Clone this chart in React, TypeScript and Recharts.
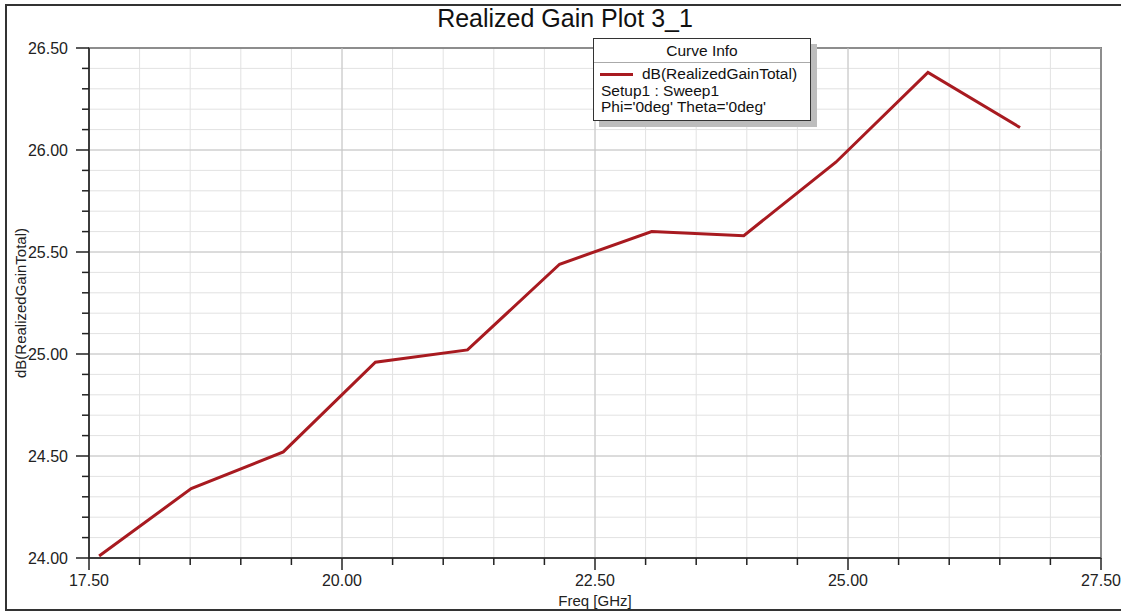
import {
  LineChart, Line, XAxis, YAxis, CartesianGrid,
  ReferenceLine, ReferenceArea, Legend,
} from 'recharts';

// frequency sweep points (GHz) and realized gain (dB)
const freqs = [17.6, 18.51, 19.42, 20.33, 21.24, 22.15, 23.06, 23.97, 24.88, 25.79, 26.7];
const gains = [24.01, 24.34, 24.52, 24.96, 25.02, 25.44, 25.6, 25.58, 25.94, 26.38, 26.11];

const xTicks = [17.5, 18, 18.5, 19, 19.5, 20, 20.5, 21, 21.5, 22, 22.5, 23, 23.5, 24, 24.5, 25, 25.5, 26, 26.5, 27, 27.5];
const xMajor = [17.5, 20, 22.5, 25, 27.5];
const yTicks = [
  24, 24.1, 24.2, 24.3, 24.4, 24.5, 24.6, 24.7, 24.8, 24.9,
  25, 25.1, 25.2, 25.3, 25.4, 25.5, 25.6, 25.7, 25.8, 25.9,
  26, 26.1, 26.2, 26.3, 26.4, 26.5,
];
const yMajor = [24, 24.5, 25, 25.5, 26, 26.5];

const FONT = '"Liberation Sans", Arial, sans-serif';
const isIn = (arr: number[], v: number) => arr.some((m) => Math.abs(m - v) < 1e-6);

const data = freqs.map((f, i) => ({ freq: f, gain: gains[i] }));

const YTick = (props: any) => {
  const { x, y, payload } = props;
  const major = isIn(yMajor, payload.value);
  return (
    <g>
      <line x1={x - (major ? 13 : 7)} x2={x} y1={y} y2={y} stroke="#222" strokeWidth={1.5} />
      {major && (
        <text x={x - 21} y={y} dy="0.36em" textAnchor="end" fontSize={16} fill="#222" fontFamily={FONT}>
          {payload.value.toFixed(2)}
        </text>
      )}
    </g>
  );
};

const XTick = (props: any) => {
  const { x, y, payload } = props;
  const major = isIn(xMajor, payload.value);
  return (
    <g>
      <line x1={x} x2={x} y1={y} y2={y + (major ? 12 : 7)} stroke="#222" strokeWidth={1.5} />
      {major && (
        <text x={x} y={y + 22} dy="0.36em" textAnchor="middle" fontSize={16} fill="#222" fontFamily={FONT}>
          {payload.value.toFixed(2)}
        </text>
      )}
    </g>
  );
};

const CurveInfo = () => (
  <div style={{ position: 'relative', width: 224, height: 89, fontFamily: FONT, color: '#111' }}>
    <div style={{ position: 'absolute', left: 6, top: 6, width: 218, height: 83, background: '#bdbdbd' }} />
    <div style={{
      position: 'absolute', left: 0, top: 0, width: 216, height: 81,
      background: '#fff', border: '1px solid #333', fontSize: 15.5, lineHeight: '16px',
    }}>
      <div style={{ textAlign: 'center', height: 23, lineHeight: '24px', borderBottom: '1px solid #aaa' }}>
        Curve Info
      </div>
      <div style={{ display: 'flex', alignItems: 'center', marginTop: 3, paddingLeft: 6, whiteSpace: 'nowrap' }}>
        <span style={{ display: 'inline-block', width: 33, height: 3, background: '#a81a20', marginRight: 9 }} />
        dB(RealizedGainTotal)
      </div>
      <div style={{ paddingLeft: 7, marginTop: 1, whiteSpace: 'nowrap' }}>Setup1 : Sweep1</div>
      <div style={{ paddingLeft: 7, whiteSpace: 'nowrap' }}>Phi='0deg' Theta='0deg'</div>
    </div>
  </div>
);

export default function App() {
  return (
    <div style={{
      position: 'absolute', left: 0, top: 0, width: 1121, height: 614,
      overflow: 'hidden', background: '#fff', fontFamily: FONT,
    }}>
      <div style={{
        position: 'absolute', left: 5, top: 4, width: 1130, height: 607,
        border: '2px solid #333', boxSizing: 'border-box',
      }} />
      <div style={{
        position: 'absolute', left: 0, width: 1130, top: 4, textAlign: 'center',
        fontSize: 25, color: '#111', lineHeight: '28px',
      }}>
        Realized Gain Plot 3_1
      </div>
      <div style={{
        position: 'absolute', left: 0, width: 1190, top: 592, textAlign: 'center',
        fontSize: 15, color: '#222', lineHeight: '18px',
      }}>
        Freq [GHz]
      </div>
      <div style={{
        position: 'absolute', left: 21, top: 303, width: 0, height: 0,
      }}>
        <div style={{
          position: 'absolute', left: -150, top: -9, width: 300, textAlign: 'center',
          fontSize: 15, color: '#222', lineHeight: '18px', transform: 'rotate(-90deg)',
          whiteSpace: 'nowrap',
        }}>
          dB(RealizedGainTotal)
        </div>
      </div>
      <div style={{ position: 'absolute', left: 0, top: 0 }}>
        <LineChart width={1121} height={614} data={data}
          margin={{ top: 48, right: 20, left: 29, bottom: 26 }}>
          <CartesianGrid stroke="#e2e2e2" strokeWidth={1} />
          {yMajor.map((v) => (
            <ReferenceLine key={'y' + v} y={v} stroke="#c6c6c6" strokeWidth={1} />
          ))}
          {xMajor.map((v) => (
            <ReferenceLine key={'x' + v} x={v} stroke="#c6c6c6" strokeWidth={1} />
          ))}
          <XAxis dataKey="freq" type="number" domain={[17.5, 27.5]} ticks={xTicks} interval={0}
            height={30} tickSize={0} tickMargin={0} tickLine={false}
            axisLine={{ stroke: '#222', strokeWidth: 1.5 }} tick={<XTick />} />
          <YAxis type="number" domain={[24, 26.5]} ticks={yTicks} interval={0}
            width={60} tickSize={0} tickMargin={0} tickLine={false}
            axisLine={{ stroke: '#222', strokeWidth: 1.5 }} tick={<YTick />} />
          <ReferenceArea x1={17.5} x2={27.5} y1={24} y2={26.5}
            fill="none" fillOpacity={0} stroke="#222" strokeWidth={1.5} />
          <Line dataKey="gain" stroke="#a81a20" strokeWidth={3} dot={false}
            isAnimationActive={false} />
          <Legend layout="horizontal" verticalAlign="middle" align="center"
            content={<CurveInfo />}
            wrapperStyle={{ position: 'absolute', left: 593, top: 38, width: 'auto' }} />
        </LineChart>
      </div>
    </div>
  );
}
